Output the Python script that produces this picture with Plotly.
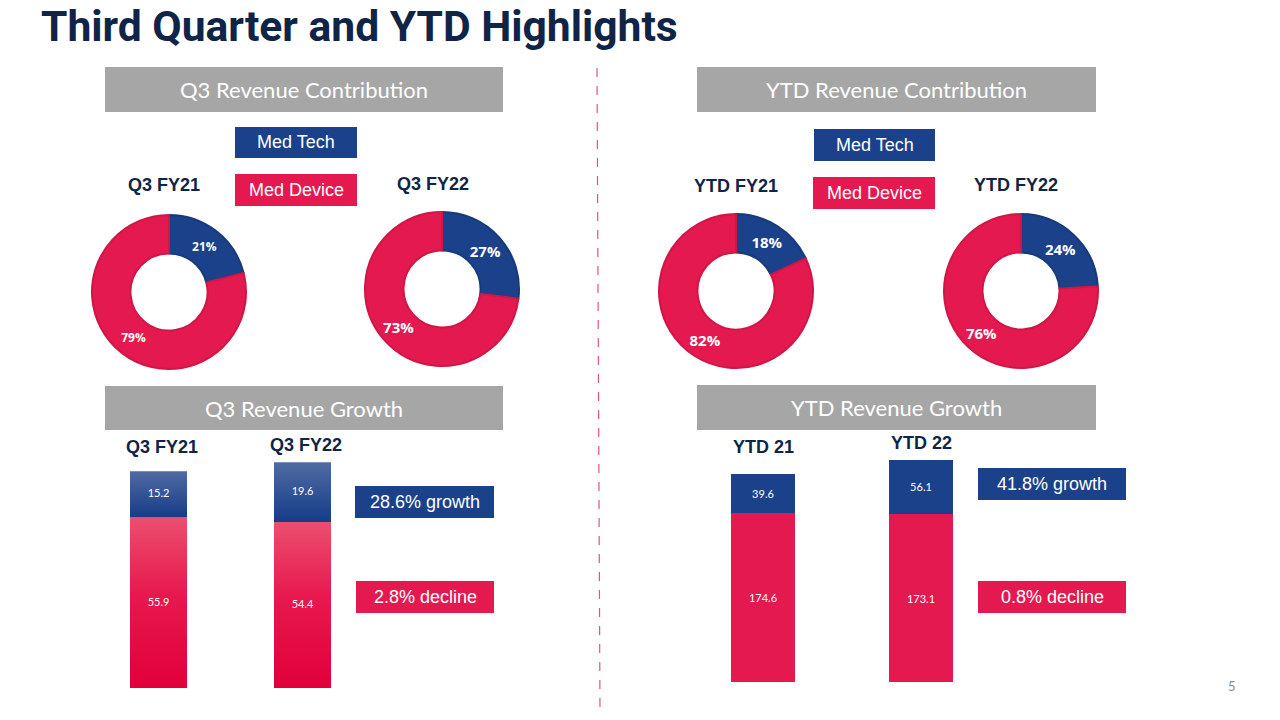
import plotly.graph_objects as go

W, H = 1280, 720

# ---------------- data ----------------
segments = ["Med Tech", "Med Device"]

q3_fy21_share = [21, 79]
q3_fy22_share = [27, 73]
ytd_fy21_share = [18, 82]
ytd_fy22_share = [24, 76]

q3_periods = ["Q3 FY21", "Q3 FY22"]
q3_medtech = [15.2, 19.6]
q3_meddevice = [55.9, 54.4]

ytd_periods = ["YTD 21", "YTD 22"]
ytd_medtech = [39.6, 56.1]
ytd_meddevice = [174.6, 173.1]

q3_growth_labels = ["28.6% growth", "2.8% decline"]
ytd_growth_labels = ["41.8% growth", "0.8% decline"]

# ---------------- styles ----------------
BLUE = "#1b418a"
RED = "#e4194f"
NAVY = "#0f2447"
GRAY = "#a6a6a6"


def fx(x):
    return x / W


def fy(y):
    return 1 - y / H


fig = go.Figure()


# ---------------- donuts ----------------
def add_donut(values, cx, cy, r, fsize):
    fig.add_trace(go.Pie(
        labels=segments,
        values=values,
        text=[f"{v}%" for v in values],
        textinfo="text",
        textposition="inside",
        insidetextorientation="horizontal",
        textfont=dict(family="Open Sans", size=fsize, color="white", weight=700),
        hole=0.5,
        sort=False,
        direction="clockwise",
        rotation=0,
        marker=dict(colors=[BLUE, RED], line=dict(color=["#173a7c", "#cf1747"], width=2)),
        domain=dict(x=[fx(cx - r), fx(cx + r)], y=[fy(cy + r), fy(cy - r)]),
        showlegend=False,
        hoverinfo="label+percent",
    ))


add_donut(q3_fy21_share, 169, 292, 77, 12)
add_donut(q3_fy22_share, 442, 289, 77, 15)
add_donut(ytd_fy21_share, 736, 291, 77, 15)
add_donut(ytd_fy22_share, 1021, 291, 77, 15)

# ---------------- Q3 bars (gradient-filled stacked columns) ----------------
bar_font = dict(family="Lato", size=11, color="white")
q3_w = 0.396
q3_grad = {
    "Med Device": [[0, "#e1003b"], [0.55, "#e8184f"], [1, "#eb4f6e"]],
    "Med Tech": [[0, "#163c89"], [1, "#4f6ba1"]],
}
for i, period in enumerate(q3_periods):
    base = 0.0
    for seg, val in (("Med Device", q3_meddevice[i]), ("Med Tech", q3_medtech[i])):
        top = base + val
        fig.add_trace(go.Scatter(
            x=[i - q3_w / 2, i + q3_w / 2, i + q3_w / 2, i - q3_w / 2, i - q3_w / 2],
            y=[base, base, top, top, base],
            mode="lines", line=dict(width=0), fill="toself",
            fillgradient=dict(type="vertical", colorscale=q3_grad[seg], start=base, stop=top),
            xaxis="x", yaxis="y", showlegend=False, name=f"{period} {seg}", hoverinfo="skip",
        ))
        fig.add_trace(go.Scatter(
            x=[i], y=[base + val / 2], mode="text", text=[f"{val}"], textfont=bar_font,
            xaxis="x", yaxis="y", showlegend=False, hovertemplate=f"{period} {seg}: {val}<extra></extra>",
        ))
        base = top

# ---------------- YTD bars ----------------
fig.add_trace(go.Bar(x=ytd_periods, y=ytd_meddevice, width=0.405, marker=dict(color=RED, line=dict(width=0)),
                     text=[f"{v}" for v in ytd_meddevice], textposition="inside", insidetextanchor="middle",
                     textangle=0, constraintext="none", textfont=bar_font, xaxis="x2", yaxis="y2",
                     showlegend=False, name="Med Device"))
fig.add_trace(go.Bar(x=ytd_periods, y=ytd_medtech, width=0.405, marker=dict(color=BLUE, line=dict(width=0)),
                     text=[f"{v}" for v in ytd_medtech], textposition="inside", insidetextanchor="middle",
                     textangle=0, constraintext="none", textfont=bar_font, xaxis="x2", yaxis="y2",
                     showlegend=False, name="Med Tech"))

# ---------------- layout ----------------
shapes = []
annotations = []


def box(x0, y0, x1, y1, color, text, font):
    shapes.append(dict(type="rect", xref="paper", yref="paper", x0=fx(x0), x1=fx(x1), y0=fy(y1), y1=fy(y0),
                       fillcolor=color, line=dict(width=0), layer="below"))
    annotations.append(dict(xref="paper", yref="paper", x=fx((x0 + x1) / 2), y=fy((y0 + y1) / 2),
                            text=text, showarrow=False, xanchor="center", yanchor="middle", font=font))


hdr_font = dict(family="Lato", size=22, color="white")
box(105, 67, 503, 112, GRAY, "Q3 Revenue Contribution", hdr_font)
box(697, 67, 1096, 112, GRAY, "YTD Revenue Contribution", hdr_font)
box(105, 386, 503, 430, GRAY, "Q3 Revenue Growth", hdr_font)
box(697, 385, 1096, 430, GRAY, "YTD Revenue Growth", hdr_font)

leg_font = dict(family="Liberation Sans", size=18, color="white")
box(235, 127, 357, 158, BLUE, segments[0], leg_font)
box(235, 174, 357, 206, RED, segments[1], leg_font)
box(814, 129, 935, 161, BLUE, segments[0], leg_font)
box(813, 177, 935, 209, RED, segments[1], leg_font)

box(355, 486, 494, 518, BLUE, q3_growth_labels[0], leg_font)
box(356, 581, 494, 613, RED, q3_growth_labels[1], leg_font)
box(978, 468, 1126, 500, BLUE, ytd_growth_labels[0], leg_font)
box(978, 581, 1126, 613, RED, ytd_growth_labels[1], leg_font)

# dashed divider
shapes.append(dict(type="line", xref="paper", yref="paper", x0=fx(597), x1=fx(600), y0=fy(68), y1=fy(710),
                   line=dict(color="#e0557a", width=1.2, dash="dash")))

# title
annotations.append(dict(xref="paper", yref="paper", x=fx(39), y=fy(26), xanchor="left", yanchor="middle",
                        text="<b>Third Quarter and YTD Highlights</b>", showarrow=False,
                        font=dict(family="Roboto", size=42.6, color=NAVY)))

# donut titles
lbl_font = dict(family="Liberation Sans", size=18, color=NAVY)
for txt, x, y in [("Q3 FY21", 164, 185), ("Q3 FY22", 433, 184), ("YTD FY21", 736, 186), ("YTD FY22", 1016, 185)]:
    annotations.append(dict(xref="paper", yref="paper", x=fx(x), y=fy(y), text=f"<b>{txt}</b>", showarrow=False,
                            xanchor="center", yanchor="middle", font=lbl_font))

# bar titles
for i, (txt, y) in enumerate(zip(q3_periods, [447, 445])):
    annotations.append(dict(xref="x", yref="paper", x=i, y=fy(y), text=f"<b>{txt}</b>",
                            showarrow=False, xanchor="center", yanchor="middle", xshift=3, font=lbl_font))
for i, (txt, y) in enumerate(zip(ytd_periods, [447, 443])):
    annotations.append(dict(xref="x2", yref="paper", x=ytd_periods[i], y=fy(y), text=f"<b>{txt}</b>",
                            showarrow=False, xanchor="center", yanchor="middle", font=lbl_font))

# page number
annotations.append(dict(xref="paper", yref="paper", x=fx(1232), y=fy(686), text="5", showarrow=False,
                        xanchor="center", yanchor="middle", font=dict(family="Lato", size=13, color="#8c8c8c")))

# Q3 bars: centres 158.5 & 302.5 px, zero at 688 px, 3.05 px/unit
# YTD bars: centres 763 & 921 px, zero at 682 px, 0.97 px/unit
fig.update_layout(
    width=W, height=H,
    margin=dict(l=0, r=0, t=0, b=0),
    paper_bgcolor="white", plot_bgcolor="rgba(0,0,0,0)",
    barmode="stack",
    shapes=shapes,
    annotations=annotations,
    xaxis=dict(domain=[fx(86.5), fx(374.5)], range=[-0.5, 1.5], visible=False, fixedrange=True),
    yaxis=dict(domain=[fy(688), fy(444)], range=[0, 80], visible=False, fixedrange=True),
    xaxis2=dict(domain=[fx(684), fx(1000)], type="category", range=[-0.5, 1.5], visible=False, anchor="y2",
                fixedrange=True),
    yaxis2=dict(domain=[fy(682), fy(439.5)], range=[0, 250], visible=False, anchor="x2", fixedrange=True),
    font=dict(family="Liberation Sans"),
)

fig.write_html("out.html", config={"displayModeBar": False},
               post_script="document.body.style.margin='0';")
